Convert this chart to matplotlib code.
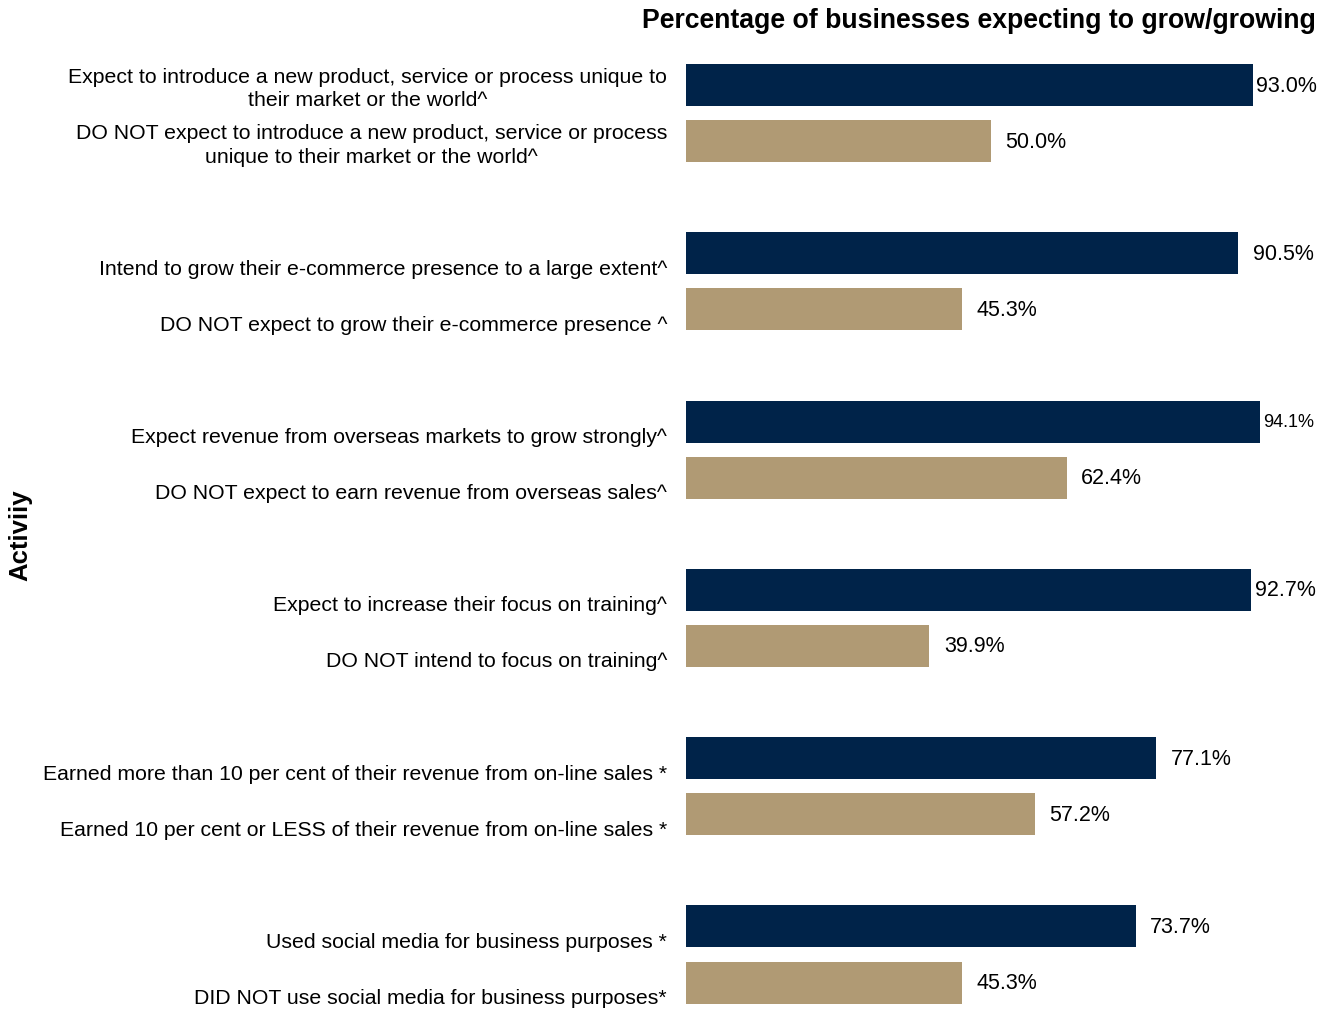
import matplotlib.pyplot as plt
import numpy as np

plt.rcParams['font.family'] = ['Liberation Sans', 'DejaVu Sans']

# category labels, top to bottom (pairs: grow/expect, do not)
labels = [
    "Expect to introduce a new product, service or process unique to\ntheir market or the world^",
    "DO NOT expect to introduce a new product, service or process\nunique to their market or the world^",
    "Intend to grow their e-commerce presence to a large extent^",
    "DO NOT expect to grow their e-commerce presence ^",
    "Expect revenue from overseas markets to grow strongly^",
    "DO NOT expect to earn revenue from overseas sales^",
    "Expect to increase their focus on training^",
    "DO NOT intend to focus on training^",
    "Earned more than 10 per cent of their revenue from on-line sales *",
    "Earned 10 per cent or LESS of their revenue from on-line sales *",
    "Used social media for business purposes *",
    "DID NOT use social media for business purposes*",
]
values = [93.0, 50.0, 90.5, 45.3, 94.1, 62.4, 92.7, 39.9, 77.1, 57.2, 73.7, 45.3]

navy = '#002349'
tan = '#B09A74'

# two bars per group, one empty slot between groups
pos = np.array([3 * (i // 2) + (i % 2) for i in range(len(values))])
colors = [navy if i % 2 == 0 else tan for i in range(len(values))]

fig = plt.figure(figsize=(13.33, 10.12), dpi=100)
ax = fig.add_axes([686 / 1333, 0.0004, 610 / 1333, 0.9423])

ax.barh(pos, values, height=0.75, color=colors)
ax.set_xlim(0, 100)
ax.set_ylim(16.5, -0.5)

for p, v in zip(pos, values):
    off = 0.5 if v > 92 else 2.4
    fs = 13 if v > 94 else 15.5
    ax.text(v + off, p, f"{v:.1f}%", va='center', ha='left', fontsize=fs)

for p, lab in zip(pos, labels):
    ax.text(-3.1, p + 0.375 + 0.06, lab, ha='right', va='bottom',
            multialignment='center', fontsize=15.3, linespacing=1.3)

for s in ax.spines.values():
    s.set_visible(False)
ax.set_xticks([])
ax.set_yticks([])

fig.text(1316 / 1333, 1 - 21 / 1012, "Percentage of businesses expecting to grow/growing",
         ha='right', va='center', fontsize=19.2, fontweight='bold')
fig.text(20 / 1333, 1 - 535 / 1012, "Activiiy", rotation=90, ha='center', va='center',
         fontsize=18.5, fontweight='bold')

fig.savefig("out.png", dpi=100)
